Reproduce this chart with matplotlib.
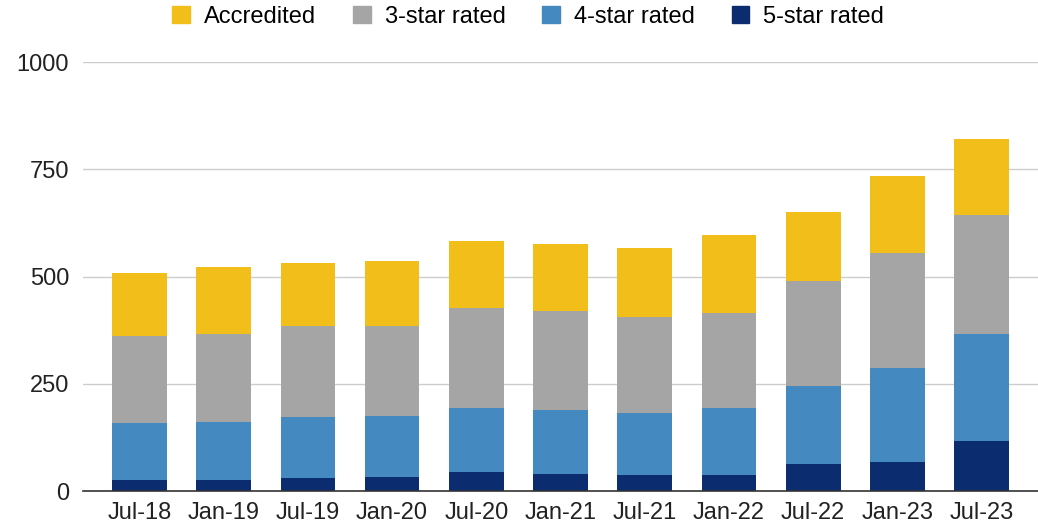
import numpy as np
import matplotlib.pyplot as plt
from matplotlib.patches import Patch

plt.rcParams['font.family'] = ['Liberation Sans', 'DejaVu Sans']

periods = ["Jul-18", "Jan-19", "Jul-19", "Jan-20", "Jul-20", "Jan-21",
           "Jul-21", "Jan-22", "Jul-22", "Jan-23", "Jul-23"]
five_star = [27, 27, 30, 34, 44, 40, 37, 37, 63, 67, 118]
four_star = [131, 134, 142, 142, 150, 150, 146, 157, 183, 219, 249]
three_star = [204, 205, 212, 208, 233, 230, 223, 222, 244, 270, 277]
accredited = [146, 157, 149, 153, 157, 157, 160, 180, 161, 179, 178]

series = [("5-star rated", five_star, "#0B2D70"),
          ("4-star rated", four_star, "#4589C1"),
          ("3-star rated", three_star, "#A5A5A5"),
          ("Accredited", accredited, "#F1BE1A")]

fig = plt.figure(figsize=(10.38, 5.27), dpi=100)
ax = fig.add_axes([0.08, 0.068, 0.92, 0.814])

x = np.arange(len(periods))
bottom = np.zeros(len(periods))
for name, vals, col in series:
    ax.bar(x, vals, 0.65, bottom=bottom, color=col, zorder=3)
    bottom += np.array(vals)

ax.set_ylim(0, 1000)
ax.set_xlim(-0.67, len(periods) - 0.33)
ax.set_yticks([0, 250, 500, 750, 1000])
ax.set_xticks(x)
ax.set_xticklabels(periods)
ax.tick_params(axis='both', length=0, labelsize=17, colors='#222222')
ax.tick_params(axis='y', pad=10)
ax.tick_params(axis='x', pad=8)
ax.grid(axis='y', color='#CCCCCC', linewidth=1, zorder=0)
for s in ['top', 'right', 'left']:
    ax.spines[s].set_visible(False)
ax.spines['bottom'].set_color('#333333')
ax.spines['bottom'].set_linewidth(1.2)
ax.spines['bottom'].set_zorder(4)

handles = [Patch(color=c, label=n) for n, v, c in series[::-1]]
fig.legend(handles=handles, loc='center', bbox_to_anchor=(0.509, 0.968), ncol=4,
           frameon=False, fontsize=17, handlelength=0.75, handleheight=0.75,
           handletextpad=0.6, columnspacing=1.55)

fig.savefig("out.png", dpi=100)
